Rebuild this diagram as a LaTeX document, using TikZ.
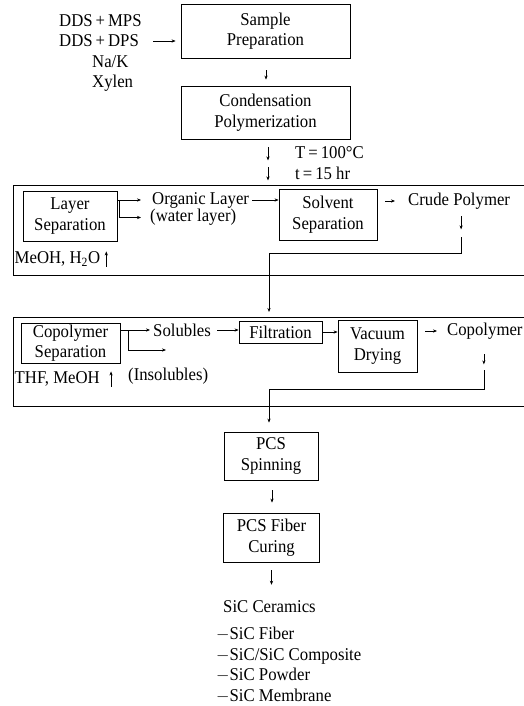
\documentclass[tikz,border=0pt]{standalone}
\usepackage{fontspec}
\setmainfont[FakeStretch=0.93]{Liberation Serif}
\usetikzlibrary{arrows.meta,calc}
\begin{document}
\begin{tikzpicture}[x=1pt,y=-1pt,
  every node/.style={font=\fontsize{18}{20.5}\selectfont},
  box/.style={draw, line width=0.8pt, align=center, inner sep=0pt},
  txt/.style={inner sep=0pt, anchor=west},
  arr/.style={line width=0.6pt, -{Stealth[length=4pt,width=3.2pt]}},
  ln/.style={line width=0.8pt},
]
\useasboundingbox (0,0) rectangle (524,706);

% inputs
\node[txt] (in1) at (59,21) {DDS\,+\,MPS};
\node[txt] (in2) at (59,41) {DDS\,+\,DPS};
\node[txt] (in3) at (92,62) {Na/K};
\node[txt] (in4) at (92,83) {Xylen};

\node[box, minimum width=169pt, minimum height=54pt] (prep) at (265.5,31) {Sample\\Preparation};
\node[box, minimum width=169pt, minimum height=53pt] (cond) at (265.5,112.5) {Condensation\\Polymerization};

\draw[arr, shorten <=14pt, shorten >=5pt] (in2.east) -- (in2.east -| prep.west);
\draw[arr, shorten <=12pt, shorten >=6pt] ([xshift=0.5pt]prep.south) -- ([xshift=0.5pt]cond.north);

\node[txt] (T) at (295,153) {T\,=\,100°C};
\node[txt] (t) at (295,173) {t\,=\,15 hr};
\draw[arr, shorten <=8pt] ([xshift=2.5pt]cond.south) -- ++(0,21);
\draw[arr, shorten <=28pt] ([xshift=2.5pt]cond.south) -- ++(0,41);

% group 1
\draw[ln] (524,185) -- (13,185) -- (13,275) -- (524,275);
\node[box, minimum width=94pt, minimum height=50pt] (layer) at (70,216) {Layer\\Separation};
\node[txt] (org) at (152,200) {Organic Layer};
\node[txt] (wat) at (150,217.5) {(water layer)};
\node[box, minimum width=98pt, minimum height=51pt] (solv) at (328,214.5) {Solvent\\Separation};
\node[txt] (crude) at (408,201) {Crude Polymer};
\node[txt] (meoh) at (14.5,259) {MeOH, H\textsubscript{2}O};

\draw[arr] (layer.east |- org.west) -- ([xshift=-11pt]org.west);
\draw[arr] ([xshift=2pt]layer.east |- org.west) |- ([xshift=-9pt]wat.west);
\draw[arr, shorten <=3pt] (org.east) -- (org.east -| solv.west);
\draw[arr, shorten <=8pt, shorten >=13pt] (solv.east |- crude.west) -- (crude.west);
\draw[arr] ([xshift=6pt]meoh.south east) -- ([xshift=6pt]meoh.north east);

\coordinate (m1) at (269,253);
\coordinate (m1e) at (269,312);
\draw[arr, shorten <=7pt] ([xshift=2pt]crude.south) -- ++(0,20);
\draw[arr, shorten <=28pt] ([xshift=2pt]crude.south) |- (m1) -- (m1e);

% group 2
\draw[ln] (524,317) -- (13,317) -- (13,406) -- (524,406);
\node[box, minimum width=99pt, minimum height=40pt] (copsep) at (70.5,343) {Copolymer\\Separation};
\node[txt] (sol) at (153,330) {Solubles};
\node[txt] (ins) at (128,376) {(Insolubles)};
\node[box, minimum width=83pt, minimum height=22pt] (filt) at (280.5,332) {Filtration};
\node[box, minimum width=79pt, minimum height=52pt] (vac) at (377.5,346) {Vacuum\\Drying};
\node[txt] (cop) at (447,331) {Copolymer};
\node[txt] (thf) at (14.5,379) {THF, MeOH};
\coordinate (insend) at (166,350);

\draw[arr] (copsep.east |- sol.west) -- ([xshift=-3pt]sol.west);
\draw[arr] ([xshift=8pt]copsep.east |- sol.west) |- (insend);
\draw[arr, shorten <=6pt] (sol.east) -- (sol.east -| filt.west);
\draw[arr] (filt.east) -- (filt.east -| vac.west);
\draw[arr, shorten <=8pt, shorten >=10pt] (vac.east |- cop.west) -- (cop.west);
\draw[arr] ([xshift=11pt]thf.south east) -- ([xshift=11pt]thf.north east);

\coordinate (m2) at (269,389);
\node[box, minimum width=94pt, minimum height=48pt] (spin) at (271,456) {PCS\\Spinning};
\draw[arr, shorten <=15pt] ([xshift=-1pt]cop.south) -- ++(0,25);
\draw[arr, shorten <=31pt] ([xshift=-1pt]cop.south) |- (m2) -- ([yshift=9pt]m2 |- spin.north);

% lower chain
\node[box, minimum width=96pt, minimum height=49pt] (cure) at (271.5,537.5) {PCS Fiber\\Curing};
\node[txt] (sic) at (223,607) {SiC Ceramics};
\node[inner sep=0pt, anchor=north west, align=left] (list) at (216,627) {$-$SiC Fiber\\$-$SiC/SiC Composite\\$-$SiC Powder\\$-$SiC Membrane};

\draw[arr, shorten <=10pt, shorten >=10pt] ([xshift=1pt]spin.south) -- ([xshift=1pt]spin.south |- cure.north);
\draw[arr, shorten <=8pt, shorten >=16pt] (cure.south) -- (cure.south |- sic.north);
\end{tikzpicture}
\end{document}
